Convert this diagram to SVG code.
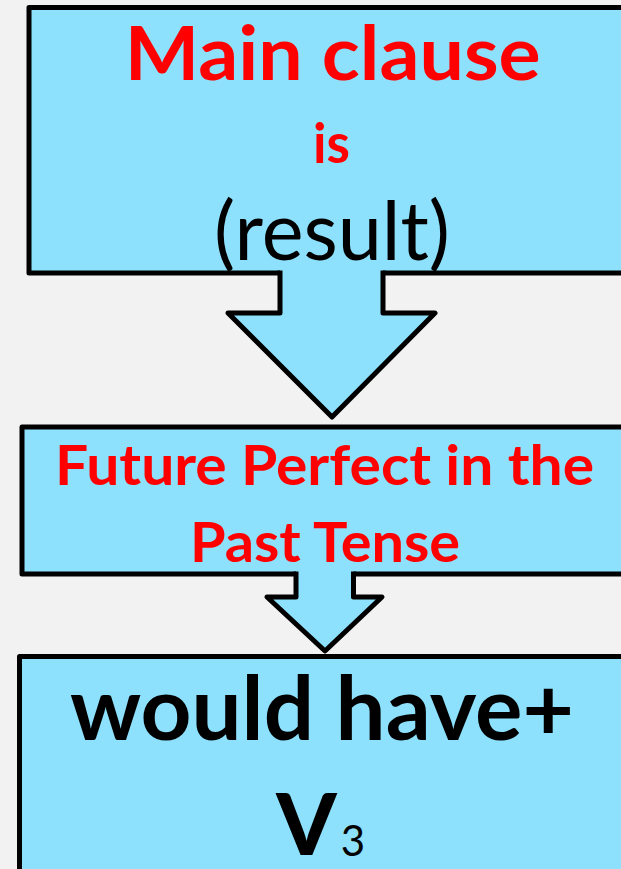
<svg xmlns="http://www.w3.org/2000/svg" width="621" height="869" viewBox="0 0 621 869">
<style>
.box{fill:#8de1fd;stroke:#000;stroke-width:5;stroke-linejoin:round}
.afill{fill:#8de1fd;stroke:none}
.aline{fill:none;stroke:#000;stroke-width:5;stroke-linejoin:round;stroke-linecap:square}
.t{font-family:Lato,"Open Sans","Liberation Sans",sans-serif;text-anchor:middle}
.b{font-weight:bold}
.red{fill:#ff0000}
.blk{fill:#000}
</style>
<rect width="621" height="869" fill="#f2f2f2"/>
<g id="node-main-clause">
<rect class="box" x="29" y="7.5" width="640" height="265.5"/>
<text class="t b red" x="332.7" y="80" font-size="74" textLength="416" lengthAdjust="spacingAndGlyphs">Main clause</text>
<text class="t b red" x="331.5" y="163" font-size="55" textLength="37" lengthAdjust="spacingAndGlyphs">is</text>
<text class="t blk" x="332" y="260" font-size="82" textLength="236" lengthAdjust="spacingAndGlyphs">(result)</text>
</g>
<g id="node-tense">
<rect class="box" x="22" y="427" width="640" height="147"/>
<text class="t b red" x="324.5" y="485" font-size="56" textLength="539" lengthAdjust="spacingAndGlyphs">Future Perfect in the</text>
<text class="t b red" x="325" y="562" font-size="56" textLength="270" lengthAdjust="spacingAndGlyphs">Past Tense</text>
</g>
<g id="node-form">
<rect class="box" x="19.5" y="656.5" width="640" height="260"/>
<text class="t b blk" x="322" y="740" font-size="88" textLength="504" lengthAdjust="spacingAndGlyphs">would have+</text>
<text class="t blk" y="855"><tspan x="306.5" font-size="86" font-weight="900">V</tspan><tspan x="353" y="856" font-size="42" font-weight="normal">3</tspan></text>
</g>
<g id="connectors">
<g id="arrow-1">
<polygon class="afill" points="280,270 383,270 383,313 435,313 332,417 228,313 280,313"/>
<path class="aline" d="M280,273 V313 H228 L332,417 L435,313 H383 V273"/>
</g>
<g id="arrow-2">
<polygon class="afill" points="296,571 353.5,571 353.5,597 382,597 325,651 267,597 296,597"/>
<path class="aline" d="M296,574 V597 H267 L325,651 L382,597 H353.5 V574"/>
</g>
</g>
</svg>
